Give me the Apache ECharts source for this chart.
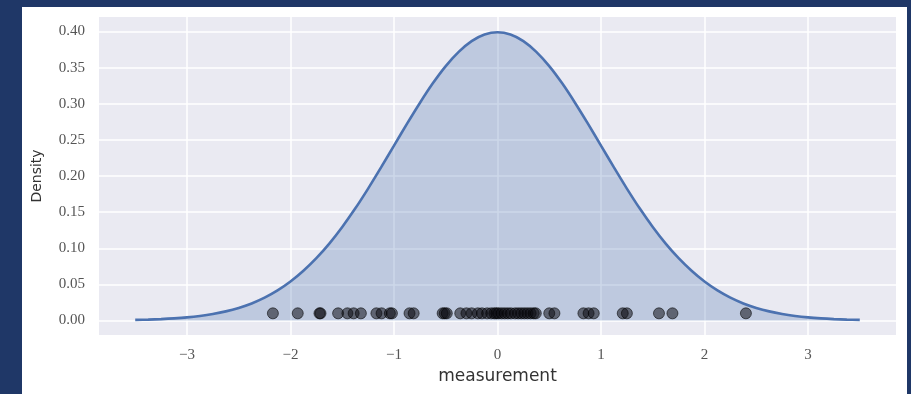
<!DOCTYPE html>
<html>
<head>
<meta charset="utf-8">
<script src="https://cdn.jsdelivr.net/npm/echarts@6/dist/echarts.min.js"></script>
<style>
  html, body { margin: 0; padding: 0; width: 911px; height: 394px; background: #1f3767; overflow: hidden; }
  #chart { position: absolute; left: 22px; top: 7px; width: 885px; height: 387px; background: #ffffff; }
</style>
</head>
<body>
<div id="chart"></div>
<script>
// density curve (right half; the curve is symmetric about 0)
const halfX = [0, 0.125, 0.25, 0.375, 0.5, 0.625, 0.75, 0.875, 1, 1.125, 1.25, 1.375, 1.5, 1.625, 1.75,
  1.875, 2, 2.125, 2.25, 2.375, 2.5, 2.625, 2.75, 2.875, 3, 3.125, 3.25, 3.375, 3.5];
const halfY = [0.3989, 0.3958, 0.3867, 0.3718, 0.3521, 0.3282, 0.3011, 0.2721, 0.2420, 0.2119, 0.1826, 0.1549, 0.1295, 0.1065, 0.0863,
  0.0689, 0.0540, 0.0417, 0.0317, 0.0237, 0.0175, 0.0127, 0.0091, 0.0064, 0.0044, 0.0030, 0.0020, 0.0013, 0.0009];

// individual measurements (dots at y = 0.01)
const measurements = [-2.17, -1.93, -1.72, -1.71, -1.54, -1.45, -1.39, -1.32, -1.17, -1.12, -1.04, -1.02,
  -0.85, -0.81, -0.53, -0.51, -0.49, -0.36, -0.30, -0.25, -0.19, -0.15, -0.10, -0.06, -0.03, -0.01,
  0.01, 0.04, 0.07, 0.10, 0.13, 0.17, 0.20, 0.23, 0.26, 0.29, 0.32, 0.35, 0.37, 0.50, 0.55,
  0.83, 0.88, 0.93, 1.21, 1.25, 1.56, 1.69, 2.40];
const dotLevel = 0.01;

const xTicks = [-3, -2, -1, 0, 1, 2, 3];
const yTicks = [0, 0.05, 0.10, 0.15, 0.20, 0.25, 0.30, 0.35, 0.40];

// mirror the half curve into the full curve
const curve = [];
for (let i = halfX.length - 1; i > 0; i--) curve.push([-halfX[i], halfY[i]]);
for (let i = 0; i < halfX.length; i++) curve.push([halfX[i], halfY[i]]);

const chart = echarts.init(document.getElementById('chart'));
const serif = '"Liberation Serif", "DejaVu Serif", serif';

const option = {
  animation: false,
  grid: {
    left: 74, right: 11, top: 10, bottom: 59,
    show: true, backgroundColor: '#eaeaf2', borderWidth: 0
  },
  xAxis: {
    type: 'value',
    min: -3.85, max: 3.85,
    name: 'measurement',
    nameLocation: 'middle',
    nameGap: 31,
    nameTextStyle: { fontFamily: 'DejaVu Sans', fontSize: 17, color: '#333' },
    axisLine: { show: false },
    axisTick: { show: false, customValues: xTicks },
    axisLabel: {
      customValues: xTicks,
      margin: 13,
      fontFamily: serif, fontSize: 15, color: '#555',
      formatter: v => (v < 0 ? '\u2212' + Math.abs(v) : String(v))
    },
    splitLine: { show: true, lineStyle: { color: '#ffffff', width: 1.5 } }
  },
  yAxis: {
    type: 'value',
    min: -0.02, max: 0.42,
    name: 'Density',
    nameLocation: 'middle',
    nameGap: 55,
    nameTextStyle: { fontFamily: 'DejaVu Sans', fontSize: 14, color: '#333' },
    axisLine: { show: false },
    axisTick: { show: false, customValues: yTicks },
    axisLabel: {
      customValues: yTicks,
      margin: 14,
      fontFamily: serif, fontSize: 15, color: '#555',
      formatter: v => v.toFixed(2)
    },
    splitLine: { show: true, lineStyle: { color: '#ffffff', width: 1.5 } }
  },
  series: [
    {
      type: 'line',
      data: curve,
      smooth: 0.3,
      symbol: 'none',
      lineStyle: { color: '#4c72b0', width: 2.6 },
      areaStyle: { color: 'rgba(76,114,176,0.4)', origin: 'auto' },
      z: 2
    },
    {
      type: 'scatter',
      data: measurements.map(x => [x, dotLevel]),
      symbolSize: 11,
      itemStyle: { color: 'rgba(10,10,15,0.66)', borderColor: 'rgba(0,0,0,0.7)', borderWidth: 1 },
      z: 3
    }
  ]
};
chart.setOption(option);
</script>
</body>
</html>
